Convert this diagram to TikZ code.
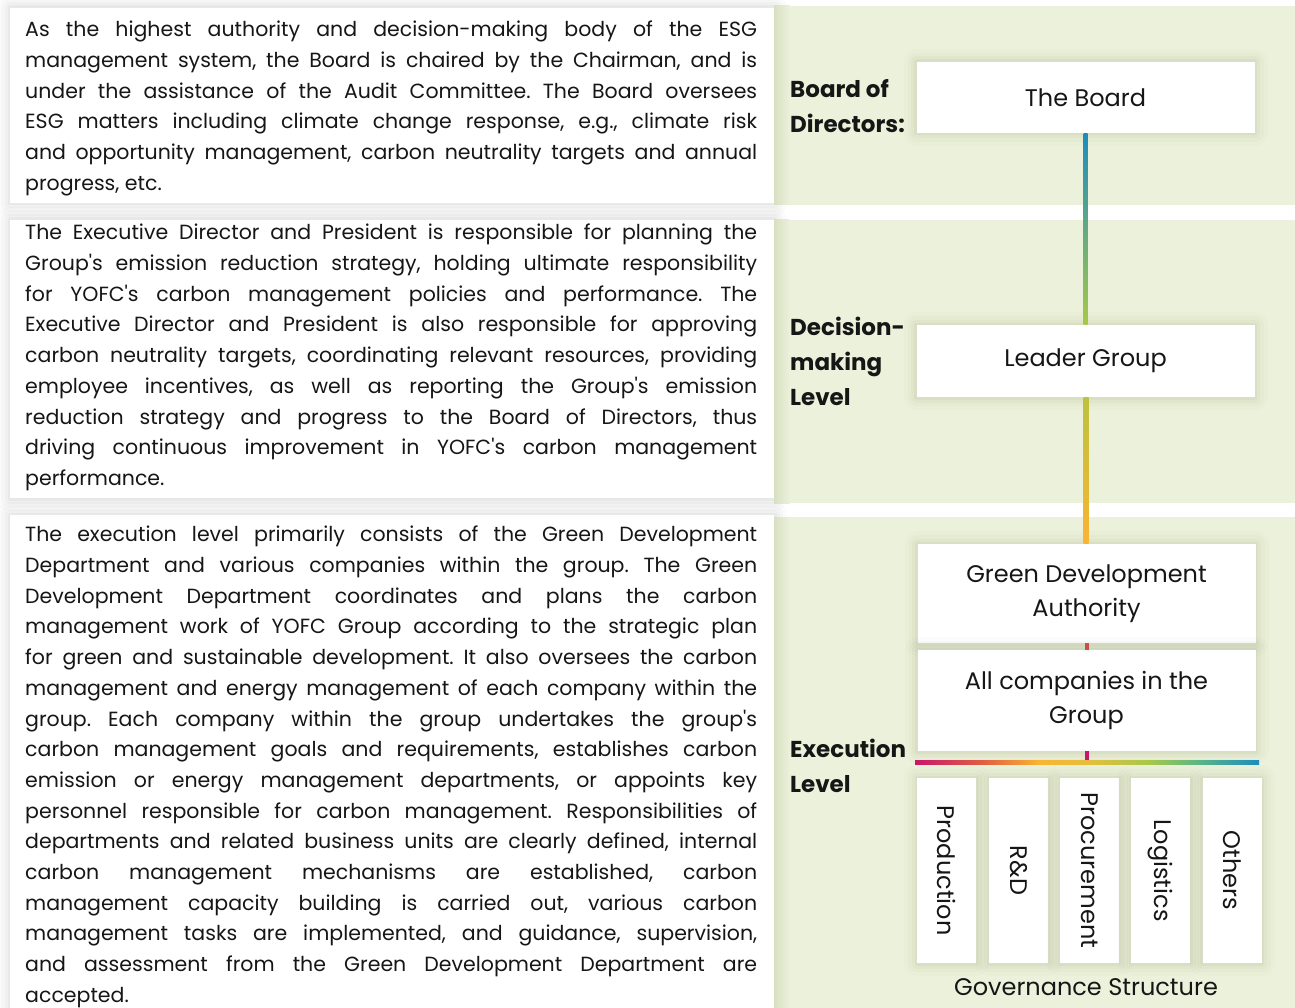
\documentclass[tikz,border=0pt]{standalone}
\usepackage{fontspec}
\setmainfont{Poppins}[Ligatures=TeXOff]
\frenchspacing

\definecolor{panelgreen}{RGB}{236,241,219}
\definecolor{paneledge}{RGB}{216,224,194}
\definecolor{inkblack}{RGB}{22,22,22}
\definecolor{haloolive}{RGB}{120,135,90}
\definecolor{halogray}{RGB}{110,110,110}
\definecolor{lineblue}{RGB}{28,140,190}
\definecolor{linegreen}{RGB}{92,182,132}
\definecolor{linelime}{RGB}{168,200,72}
\definecolor{lineolive}{RGB}{188,194,62}
\definecolor{lineamber}{RGB}{230,190,62}
\definecolor{lineorange}{RGB}{250,180,50}
\definecolor{linered}{RGB}{200,82,64}
\definecolor{linemagenta}{RGB}{200,22,108}
\definecolor{linecoral}{RGB}{224,96,66}

\pgfdeclarehorizontalshading{spectrum}{100bp}{color(0bp)=(linemagenta); color(25bp)=(linemagenta);
  color(35bp)=(linecoral); color(43bp)=(lineorange); color(50bp)=(lineamber);
  color(59bp)=(linelime); color(66bp)=(linegreen); color(75bp)=(lineblue); color(100bp)=(lineblue)}

\tikzset{
  halo/.style={preaction={draw=#1, line width=26pt, draw opacity=0.025, line join=round},
    preaction={draw=#1, line width=18pt, draw opacity=0.035, line join=round},
    preaction={draw=#1, line width=11pt, draw opacity=0.045, line join=round},
    preaction={draw=#1, line width=5pt, draw opacity=0.06, line join=round}},
  textpanel/.style={fill=white, halo=halogray},
  levelpanel/.style={fill=panelgreen},
  bodytext/.style={anchor=north west, inner sep=0pt, text width=732pt, align=justify,
    font=\fontsize{20.5}{30.7}\selectfont, text=inkblack},
  levellabel/.style={anchor=west, inner sep=0pt, align=left, font=\fontsize{23}{35}\selectfont\bfseries, text=inkblack},
  orgbox/.style={fill=white, minimum width=338pt, inner sep=0pt, align=center,
    font=\fontsize{24}{33.5}\selectfont, text=inkblack, halo=haloolive},
  unitbox/.style={fill=white, rotate=-90, minimum width=185pt, minimum height=59pt, inner sep=0pt,
    font=\fontsize{24}{30}\selectfont, text=inkblack, halo=haloolive}
}

\begin{document}
\begin{tikzpicture}[x=1pt, y=-1pt]
  \useasboundingbox[fill=white] (0,0) rectangle (1295,1008);

  \path[textpanel] (10,8) rectangle (774,203);
  \path[textpanel] (10,220) rectangle (774,498);
  \path[textpanel] (10,515) rectangle (774,1030);

  \path[levelpanel] (774,6) rectangle (1295,205);
  \path[levelpanel] (774,220) rectangle (1295,503);
  \path[levelpanel] (774,517) rectangle (1295,1008);
  \shade[left color=paneledge, right color=panelgreen] (774,6) rectangle (790,205);
  \shade[left color=paneledge, right color=panelgreen] (774,220) rectangle (790,503);
  \shade[left color=paneledge, right color=panelgreen] (774,517) rectangle (790,1008);

  \node[bodytext] (boardtext) at (25,21) {As the highest authority and decision-making body of the ESG\linebreak
    management system, the Board is chaired by the Chairman, and is\linebreak
    under the assistance of the Audit Committee. The Board oversees\linebreak
    ESG matters including climate change response, e.g., climate risk\linebreak
    and opportunity management, carbon neutrality targets and annual\linebreak
    progress, etc.};
  \node[bodytext] (leadertext) at (25,224) {The Executive Director and President is responsible for planning the\linebreak
    Group's emission reduction strategy, holding ultimate responsibility\linebreak
    for YOFC's carbon management policies and performance. The\linebreak
    Executive Director and President is also responsible for approving\linebreak
    carbon neutrality targets, coordinating relevant resources, providing\linebreak
    employee incentives, as well as reporting the Group's emission\linebreak
    reduction strategy and progress to the Board of Directors, thus\linebreak
    driving continuous improvement in YOFC's carbon management\linebreak
    performance.};
  \node[bodytext] (exectext) at (25,526) {The execution level primarily consists of the Green Development\linebreak
    Department and various companies within the group. The Green\linebreak
    Development Department coordinates and plans the carbon\linebreak
    management work of YOFC Group according to the strategic plan\linebreak
    for green and sustainable development. It also oversees the carbon\linebreak
    management and energy management of each company within the\linebreak
    group. Each company within the group undertakes the group's\linebreak
    carbon management goals and requirements, establishes carbon\linebreak
    emission or energy management departments, or appoints key\linebreak
    personnel responsible for carbon management. Responsibilities of\linebreak
    departments and related business units are clearly defined, internal\linebreak
    carbon management mechanisms are established, carbon\linebreak
    management capacity building is carried out, various carbon\linebreak
    management tasks are implemented, and guidance, supervision,\linebreak
    and assessment from the Green Development Department are\linebreak
    accepted.};

  \node[levellabel] (boardlabel) at (790,106) {Board of\\Directors:};
  \node[levellabel] (leaderlabel) at (790,361) {Decision-\\making\\Level};
  \node[levellabel] (execlabel) at (790,766) {Execution\\Level};

  \node[orgbox, minimum height=71pt] (board) at (1085.5,97.5) {The Board};
  \node[orgbox, minimum height=72pt] (leader) at (1085.5,361) {Leader Group};
  \node[orgbox, minimum height=99pt] (gda) at (1086.5,593.5) {Green Development\\Authority};
  \node[orgbox, minimum height=101pt] (comp) at (1086.5,700.5) {All companies in the\\Group};

  \coordinate (barL) at (915,762);
  \coordinate (barR) at (1259,762);

  \shade[top color=lineblue, middle color=linegreen, bottom color=linelime]
    ([xshift=-2pt]board.south) rectangle ([xshift=2pt]leader.north);
  \shade[top color=lineolive, middle color=lineamber, bottom color=lineorange]
    ([xshift=-2pt]leader.south) rectangle ([xshift=2pt]gda.north);
  \fill[linered] ([xshift=-2pt]gda.south) rectangle ([xshift=2pt]comp.north);
  \fill[linemagenta] ([xshift=-2pt]comp.south) rectangle ([xshift=2pt]comp.south |- barL);
  \shade[shading=spectrum] ([yshift=2pt]barL) rectangle ([yshift=-2pt]barR);

  \foreach \name/\unit/\xc in {prod/Production/946.5, rnd/R\&D/1018.5, proc/Procurement/1089.5,
      logi/Logistics/1160.5, other/Others/1232}
    \node[unitbox] (\name) at (\xc,870.5) {\unit};

  \node[font=\fontsize{24}{30}\selectfont, text=inkblack] (caption) at (1086,987) {Governance Structure};
\end{tikzpicture}
\end{document}
